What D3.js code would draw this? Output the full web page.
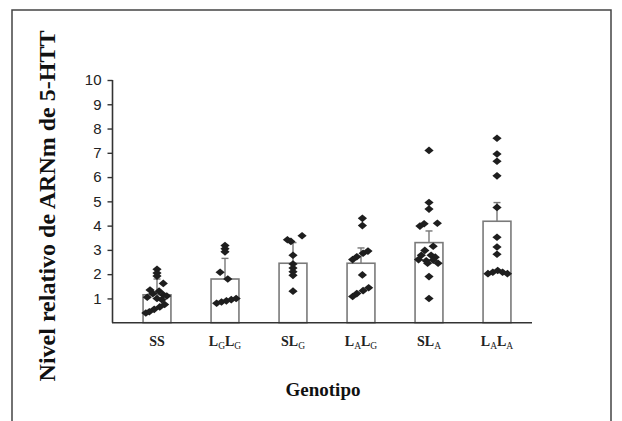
<!DOCTYPE html>
<html>
<head>
<meta charset="utf-8">
<script src="https://cdn.jsdelivr.net/npm/d3@7"></script>
<style>
  html, body { margin: 0; padding: 0; background: #fff; }
  svg { display: block; }
</style>
</head>
<body>
<svg id="chart" width="622" height="421"></svg>
<script>
// Genotype groups: main letter and subscript pairs for each axis label
const categories = ["SS", "LGLG", "SLG", "LALG", "SLA", "LALA"];
const labelParts = [
  [["SS", ""]],
  [["L", "G"], ["L", "G"]],
  [["SL", "G"]],
  [["L", "A"], ["L", "G"]],
  [["SL", "A"]],
  [["L", "A"], ["L", "A"]]
];

// Group means (bar heights) and upper error bar limits
const means = [1.15, 1.8, 2.45, 2.45, 3.3, 4.18];
const errTops = [1.8, 2.65, 3.3, 3.08, 3.78, 4.95];

// Individual measurements per group; spread = horizontal jitter in half-bar units
const ssValues   = [2.2, 2.05, 1.92, 1.62, 1.35, 1.3, 1.2, 1.15, 1.1, 1.05, 1.0, 0.95, 0.75, 0.65, 0.55, 0.45, 0.4];
const ssSpread   = [0, 0, 0, 0.45, -0.5, 0.15, -0.3, 0.45, 0.7, -0.7, 0, 0.35, 0.55, 0.2, -0.2, -0.55, -0.8];
const lglgValues = [3.18, 3.05, 2.92, 2.08, 1.8, 0.8, 0.85, 0.9, 0.95, 1.0];
const lglgSpread = [0, 0, 0, -0.35, 0.2, -0.6, -0.25, 0.1, 0.45, 0.8];
const slgValues  = [3.58, 3.42, 3.35, 2.78, 2.42, 2.25, 2.1, 1.95, 1.3];
const slgSpread  = [0.65, -0.4, -0.15, 0, 0, 0, 0, 0, 0];
const lalgValues = [4.3, 4.0, 2.6, 2.72, 2.86, 2.95, 1.97, 1.08, 1.2, 1.32, 1.44];
const lalgSpread = [0.1, 0.1, -0.6, -0.3, 0.15, 0.5, 0.1, -0.6, -0.3, 0.15, 0.55];
const slaValues  = [7.1, 4.95, 4.68, 3.98, 4.08, 4.1, 3.15, 2.98, 2.78, 2.78, 2.7, 2.6, 2.55, 2.58, 2.45, 2.45, 1.9, 1.0];
const slaSpread  = [0, 0, 0, -0.65, -0.35, 0.6, 0.3, -0.3, -0.55, 0.15, 0.45, -0.75, -0.2, 0.3, 0.65, -0.1, 0, 0];
const lalaValues = [7.6, 6.95, 6.65, 6.05, 4.75, 3.52, 3.12, 2.82, 2.02, 2.08, 2.15, 2.08, 2.02];
const lalaSpread = [0, 0, 0, 0, 0, 0, 0, 0, -0.65, -0.3, 0.05, 0.4, 0.75];

const pointValues = [ssValues, lglgValues, slgValues, lalgValues, slaValues, lalaValues];
const pointSpread = [ssSpread, lglgSpread, slgSpread, lalgSpread, slaSpread, lalaSpread];

const yTicks = [1, 2, 3, 4, 5, 6, 7, 8, 9, 10];
const yTitle = "Nivel relativo de ARNm de 5-HTT";
const xTitle = "Genotipo";

const svg = d3.select("#chart");

// Outer frame around the figure (open at the bottom)
svg.append("path")
  .attr("d", "M12,421 L12,10 L611,10 L611,421")
  .attr("fill", "none")
  .attr("stroke", "#444")
  .attr("stroke-width", 1.5);

const x = d3.scaleBand()
  .domain(categories)
  .range([123, 531])
  .paddingInner(0.59)
  .paddingOuter(0.295);

const y = d3.scaleLinear().domain([0, 10]).range([322.7, 80]);

const axisColor = "#333";

// Bars
svg.append("g").selectAll("rect")
  .data(categories)
  .join("rect")
  .attr("x", d => x(d))
  .attr("y", (d, i) => y(means[i]))
  .attr("width", x.bandwidth())
  .attr("height", (d, i) => y(0) - y(means[i]))
  .attr("fill", "#fff")
  .attr("stroke", "#7a7a7a")
  .attr("stroke-width", 1.6);

// Upper error bars
const err = svg.append("g").attr("stroke", "#777").attr("stroke-width", 1.4);
categories.forEach((c, i) => {
  const cx = x(c) + x.bandwidth() / 2;
  err.append("line")
    .attr("x1", cx).attr("x2", cx)
    .attr("y1", y(means[i])).attr("y2", y(errTops[i]));
  err.append("line")
    .attr("x1", cx - 3.5).attr("x2", cx + 3.5)
    .attr("y1", y(errTops[i])).attr("y2", y(errTops[i]));
});

// Individual data points as diamonds
const diamond = "M0,-3.8 L4.6,0 L0,3.8 L-4.6,0 Z";
const pts = svg.append("g").attr("fill", "#1e1e1e");
categories.forEach((c, i) => {
  const cx = x(c) + x.bandwidth() / 2;
  const half = x.bandwidth() / 2;
  pointValues[i].forEach((v, j) => {
    pts.append("path")
      .attr("d", diamond)
      .attr("transform", `translate(${cx + pointSpread[i][j] * half},${y(v)})`);
  });
});

// Y axis
const yAxis = svg.append("g")
  .attr("transform", "translate(112.5,0)")
  .call(d3.axisLeft(y).tickValues(yTicks).tickSize(5).tickPadding(6).tickFormat(d3.format("d")));
yAxis.select(".domain").attr("d", `M0,${y(10)}V${y(0)}`).attr("stroke", axisColor).attr("stroke-width", 1.6);
yAxis.selectAll(".tick line").attr("stroke", axisColor).attr("stroke-width", 1.4);
yAxis.selectAll(".tick text")
  .attr("fill", "#222")
  .style("font-family", "'Liberation Sans', Arial, sans-serif")
  .style("font-size", "15px");

// X axis baseline
svg.append("line")
  .attr("x1", 112).attr("x2", 532)
  .attr("y1", y(0)).attr("y2", y(0))
  .attr("stroke", axisColor).attr("stroke-width", 1.6);

// Category labels with subscripts
const catLabels = svg.append("g")
  .style("font-family", "'Liberation Serif', 'Times New Roman', serif")
  .attr("fill", "#222");
categories.forEach((c, i) => {
  const t = catLabels.append("text")
    .attr("x", x(c) + x.bandwidth() / 2)
    .attr("y", 346)
    .attr("text-anchor", "middle")
    .style("font-size", "14px")
    .style("font-weight", "bold");
  let lowered = false;
  labelParts[i].forEach(([main, sub]) => {
    t.append("tspan").text(main).attr("dy", lowered ? -3 : 0);
    lowered = false;
    if (sub) {
      t.append("tspan").text(sub)
        .style("font-size", "9.5px")
        .style("font-weight", "normal")
        .attr("dy", 3);
      lowered = true;
    }
  });
});

// Axis titles
svg.append("text")
  .attr("transform", "translate(55,206) rotate(-90)")
  .attr("text-anchor", "middle")
  .style("font-family", "'Liberation Serif', 'Times New Roman', serif")
  .style("font-weight", "bold")
  .style("font-size", "24px")
  .attr("fill", "#111")
  .text(yTitle);

svg.append("text")
  .attr("x", 323)
  .attr("y", 396)
  .attr("text-anchor", "middle")
  .style("font-family", "'Liberation Serif', 'Times New Roman', serif")
  .style("font-weight", "bold")
  .style("font-size", "19px")
  .attr("fill", "#111")
  .text(xTitle);
</script>
</body>
</html>
